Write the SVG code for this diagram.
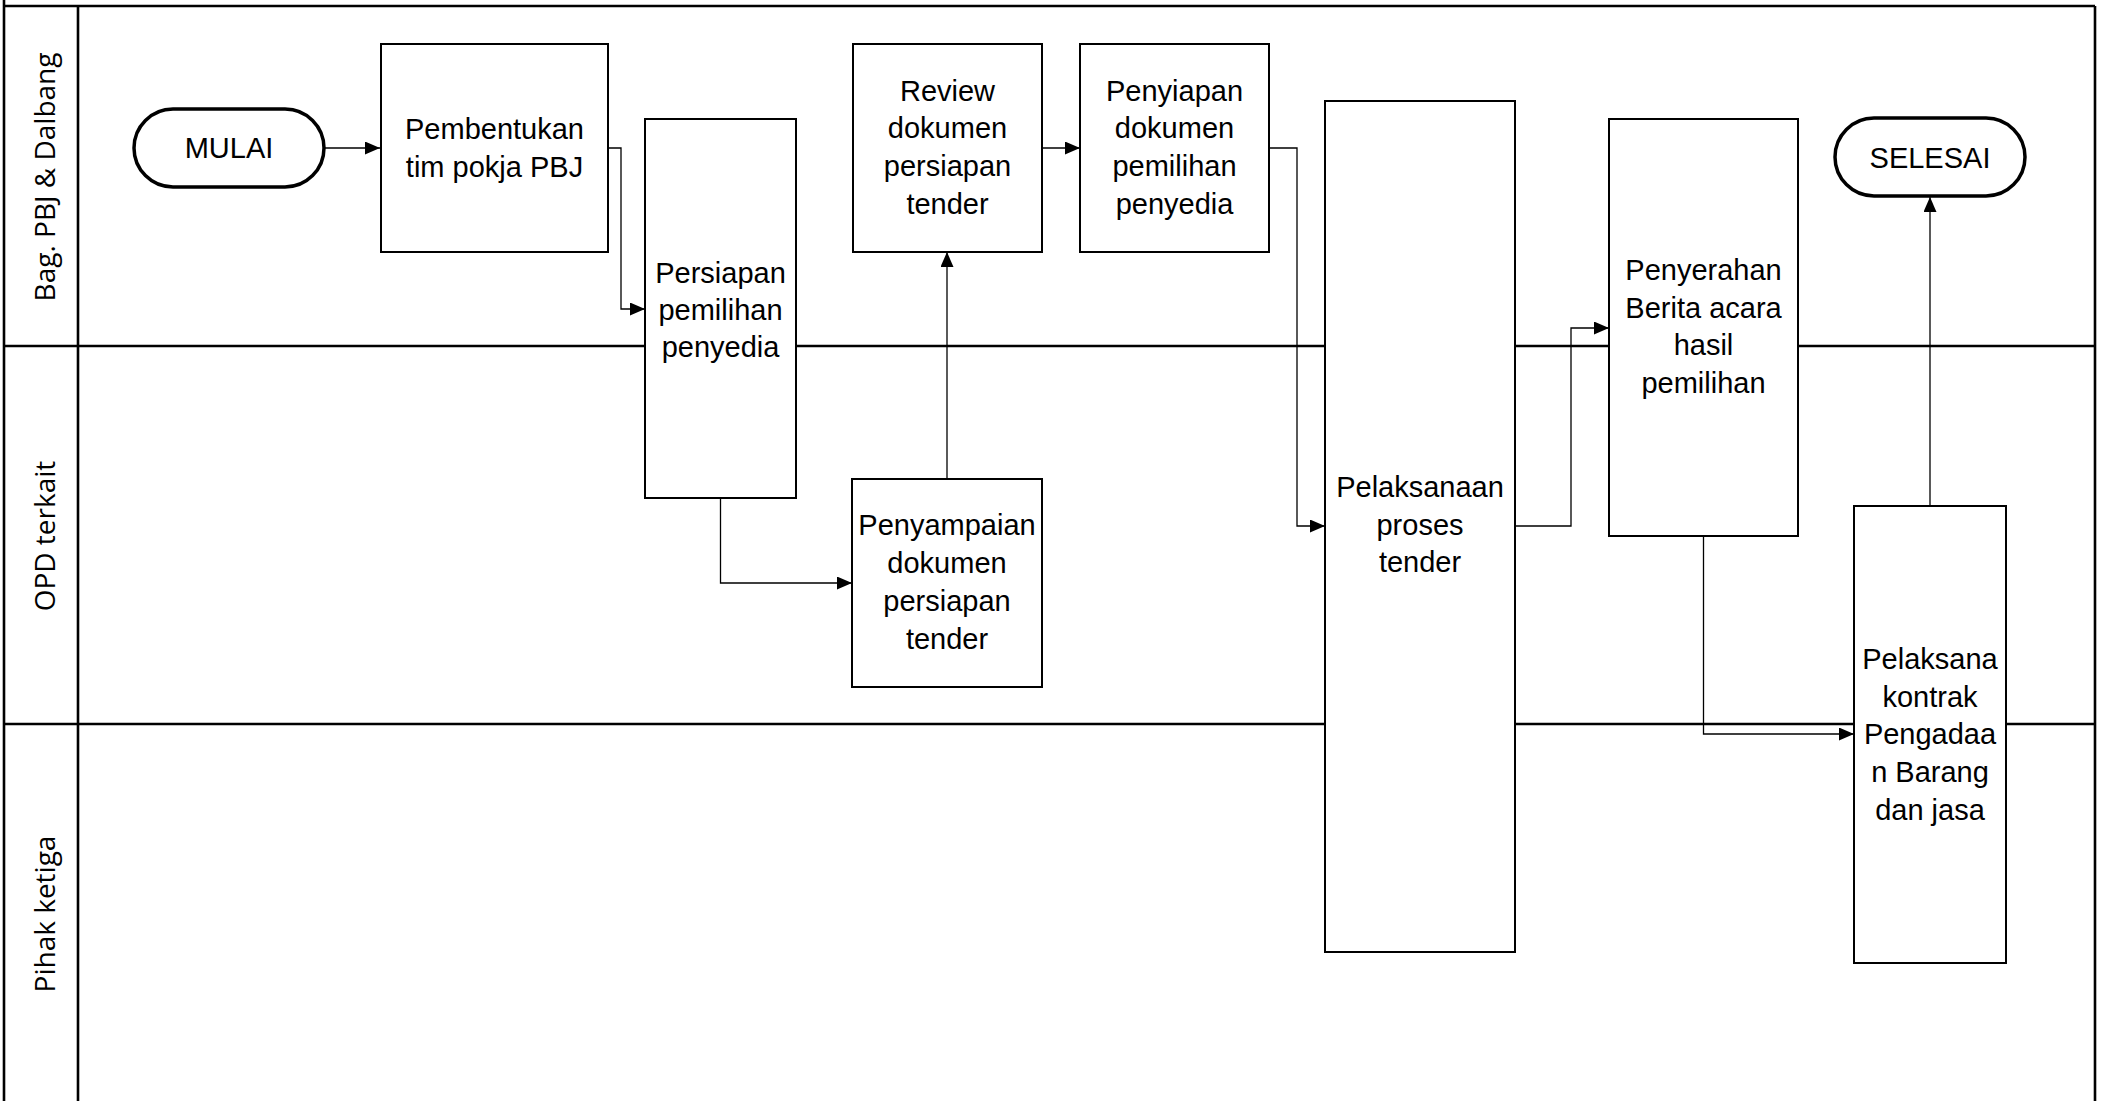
<svg xmlns="http://www.w3.org/2000/svg" width="2103" height="1101" viewBox="0 0 2103 1101">
<style>
.lane{stroke:#000;stroke-width:2.6;fill:none}
.lbl{font-family:"Open Sans","Noto Sans",sans-serif;font-size:28px;fill:#000;text-anchor:middle}
.box{fill:#fff;stroke:#000;stroke-width:2}
.term{fill:#fff;stroke:#000;stroke-width:3.5}
.txt{font-family:"Liberation Sans",Arial,sans-serif;font-size:29px;fill:#000;text-anchor:middle}
.con{fill:none;stroke:#000;stroke-width:1.3;marker-end:url(#arr)}
</style>
<defs>
<marker id="arr" markerUnits="userSpaceOnUse" markerWidth="15" markerHeight="13" refX="15" refY="6.5" orient="auto">
<path d="M0,0 L15,6.5 L0,13 z" fill="#000"/>
</marker>
</defs>
<rect width="2103" height="1101" fill="#fff"/>
<g id="lanes">
<path class="lane" d="M4,0 V1101 M2095,6 V1101 M4,6 H2095 M78,6 V1101 M4,346 H2095 M4,724 H2095"/>
<text class="lbl" transform="translate(55,177) rotate(-90)">Bag. PBJ &amp; Dalbang</text>
<text class="lbl" transform="translate(55,536) rotate(-90)">OPD terkait</text>
<text class="lbl" transform="translate(55,914) rotate(-90)">Pihak ketiga</text>
</g>
<g id="connectors">
<path class="con" d="M324,148 H380"/>
<path class="con" d="M608,148 H621 V309 H645"/>
<path class="con" d="M720.5,498 V583 H852"/>
<path class="con" d="M947,479 V252"/>
<path class="con" d="M1042,148 H1080"/>
<path class="con" d="M1269,148 H1297 V526 H1325"/>
<path class="con" d="M1515,526 H1571 V328 H1609"/>
<path class="con" d="M1703.5,536 V734 H1854"/>
<path class="con" d="M1930,506 V197"/>
</g>
<g id="mulai">
<rect class="term" x="134" y="109" width="190" height="78" rx="39"/>
<text class="txt" x="229" y="158">MULAI</text>
</g>
<g id="pembentukan">
<rect class="box" x="381" y="44" width="227" height="208"/>
<text class="txt" x="494.5" y="139">Pembentukan</text>
<text class="txt" x="494.5" y="177">tim pokja PBJ</text>
</g>
<g id="persiapan">
<rect class="box" x="645" y="119" width="151" height="379"/>
<text class="txt" x="720.5" y="283">Persiapan</text>
<text class="txt" x="720.5" y="320">pemilihan</text>
<text class="txt" x="720.5" y="357">penyedia</text>
</g>
<g id="review">
<rect class="box" x="853" y="44" width="189" height="208"/>
<text class="txt" x="947.5" y="101">Review</text>
<text class="txt" x="947.5" y="138">dokumen</text>
<text class="txt" x="947.5" y="176">persiapan</text>
<text class="txt" x="947.5" y="214">tender</text>
</g>
<g id="penyiapan">
<rect class="box" x="1080" y="44" width="189" height="208"/>
<text class="txt" x="1174.5" y="101">Penyiapan</text>
<text class="txt" x="1174.5" y="138">dokumen</text>
<text class="txt" x="1174.5" y="176">pemilihan</text>
<text class="txt" x="1174.5" y="214">penyedia</text>
</g>
<g id="penyampaian">
<rect class="box" x="852" y="479" width="190" height="208"/>
<text class="txt" x="947" y="535">Penyampaian</text>
<text class="txt" x="947" y="573">dokumen</text>
<text class="txt" x="947" y="611">persiapan</text>
<text class="txt" x="947" y="649">tender</text>
</g>
<g id="pelaksanaan">
<rect class="box" x="1325" y="101" width="190" height="851"/>
<text class="txt" x="1420" y="497">Pelaksanaan</text>
<text class="txt" x="1420" y="535">proses</text>
<text class="txt" x="1420" y="572">tender</text>
</g>
<g id="penyerahan">
<rect class="box" x="1609" y="119" width="189" height="417"/>
<text class="txt" x="1703.5" y="280">Penyerahan</text>
<text class="txt" x="1703.5" y="318">Berita acara</text>
<text class="txt" x="1703.5" y="355">hasil</text>
<text class="txt" x="1703.5" y="393">pemilihan</text>
</g>
<g id="pelaksana">
<rect class="box" x="1854" y="506" width="152" height="457"/>
<text class="txt" x="1930" y="669">Pelaksana</text>
<text class="txt" x="1930" y="707">kontrak</text>
<text class="txt" x="1930" y="744">Pengadaa</text>
<text class="txt" x="1930" y="782">n Barang</text>
<text class="txt" x="1930" y="820">dan jasa</text>
</g>
<g id="selesai">
<rect class="term" x="1835" y="118" width="190" height="78" rx="39"/>
<text class="txt" x="1930" y="168">SELESAI</text>
</g>
</svg>
